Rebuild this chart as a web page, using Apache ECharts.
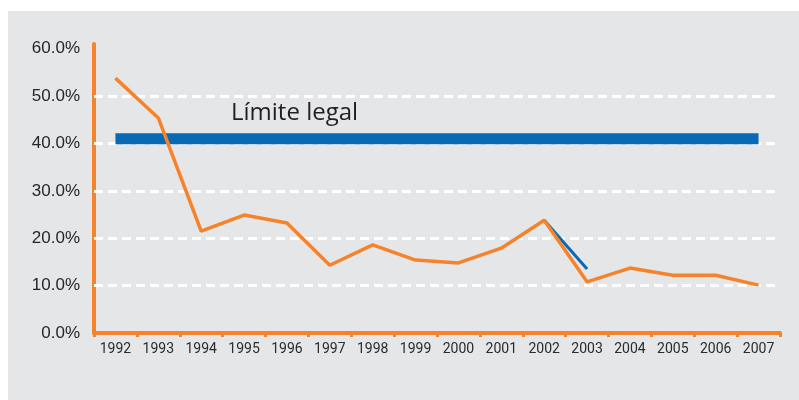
<!DOCTYPE html>
<html>
<head>
<meta charset="utf-8">
<script src="https://cdn.jsdelivr.net/npm/echarts@6/dist/echarts.min.js"></script>
<style>html,body{margin:0;padding:0;background:#fff}#c{width:799px;height:400px}</style>
</head>
<body>
<div id="c"></div>
<script>
const years = ['1992','1993','1994','1995','1996','1997','1998','1999','2000','2001','2002','2003','2004','2005','2006','2007'];
const rate = [53.8, 45.4, 21.5, 24.9, 23.2, 14.3, 18.6, 15.4, 14.8, 17.9, 23.8, 10.8, 13.7, 12.2, 12.2, 10.1];
const projection = [null, null, null, null, null, null, null, null, null, null, 23.8, 13.5, null, null, null, null];
const legalLimit = [41, 41, 41, 41, 41, 41, 41, 41, 41, 41, 41, 41, 41, 41, 41, 41];
const gridLevels = [10, 20, 30, 40, 50];
const limitLabel = 'Límite legal';
const yMin = 0, yMax = 61, yStep = 10;

const ORANGE = '#f4832c';
const BLUE = '#0a69b4';
const chart = echarts.init(document.getElementById('c'), null, {renderer: 'canvas'});
chart.setOption({
  backgroundColor: '#ffffff',
  animation: false,
  graphic: [
    {type: 'rect', z: -10, silent: true, shape: {x: 8, y: 11, width: 791, height: 389}, style: {fill: '#e5e6e8'}},
    {type: 'text', z: 10, left: 231, top: 101, style: {text: limitLabel, font: '24px "Open Sans"', fill: '#231f20'}}
  ],
  grid: {left: 94, right: 19, top: 44, bottom: 67, containLabel: false},
  xAxis: {
    type: 'category',
    data: years,
    boundaryGap: true,
    axisLine: {show: true, lineStyle: {color: ORANGE, width: 4}},
    axisTick: {show: true, alignWithLabel: false, length: 4, lineStyle: {color: ORANGE, width: 3}},
    axisLabel: {color: '#2b2b2b', fontFamily: 'Roboto', fontSize: 14, margin: 9},
    splitLine: {show: false}
  },
  yAxis: {
    type: 'value',
    min: yMin, max: yMax, interval: yStep,
    axisLine: {show: true, lineStyle: {color: ORANGE, width: 4}},
    axisTick: {show: false},
    axisLabel: {
      color: '#262626', fontFamily: '"Liberation Sans", Arial', fontSize: 17, margin: 14,
      formatter: v => (v % 10 === 0 ? v.toFixed(1) + '%' : '')
    },
    splitLine: {show: false}
  },
  series: [
    {name: limitLabel, type: 'line', data: legalLimit, symbol: 'none', z: 2,
     lineStyle: {color: BLUE, width: 11, cap: 'butt'},
     markLine: {
       silent: true, symbol: ['none', 'none'], label: {show: false}, z: 1,
       lineStyle: {color: '#ffffff', width: 3, type: [9, 5], opacity: 1},
       emphasis: {disabled: true},
       data: gridLevels.map(v => ({yAxis: v}))
     }},
    {name: 'proj', type: 'line', data: projection, symbol: 'none', z: 3, connectNulls: false,
     lineStyle: {color: BLUE, width: 3}},
    {name: 'rate', type: 'line', data: rate, symbol: 'none', z: 4,
     lineStyle: {color: ORANGE, width: 3.5}}
  ]
});
</script>
</body>
</html>
